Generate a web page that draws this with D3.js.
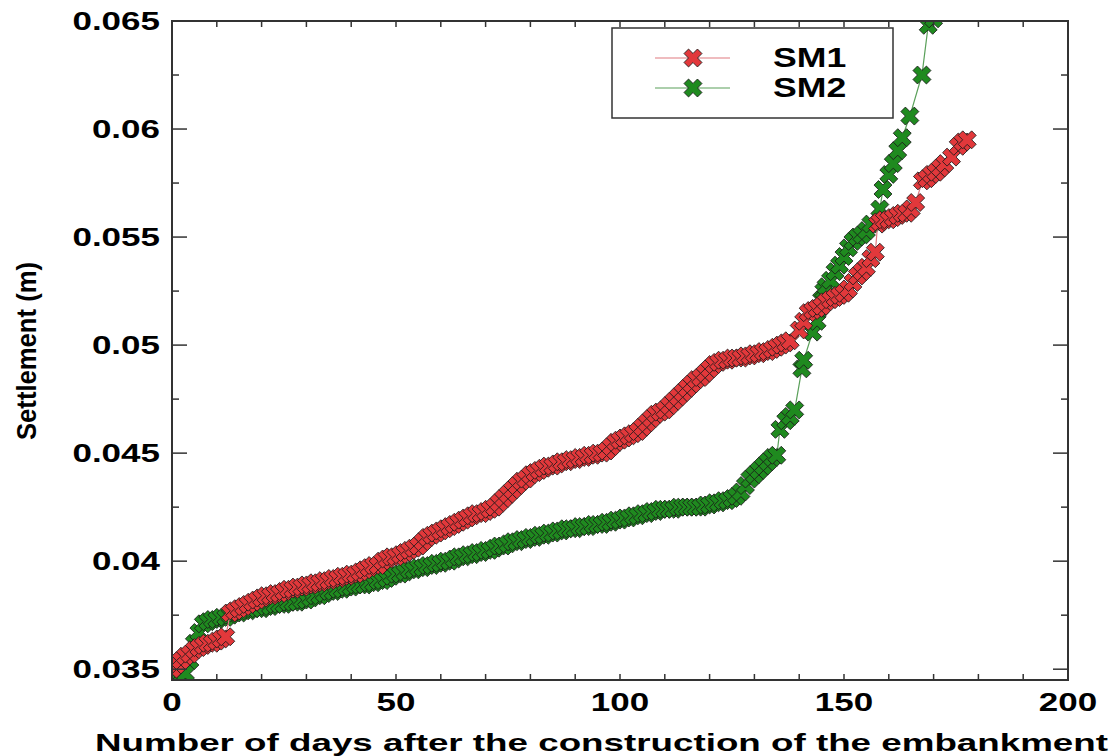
<!DOCTYPE html>
<html>
<head>
<meta charset="utf-8">
<script src="https://cdn.jsdelivr.net/npm/d3@7"></script>
<style>
  html, body { margin: 0; padding: 0; background: #fff; }
  svg { display: block; }
  text { font-family: "Liberation Sans", Arial, sans-serif; font-weight: bold; fill: #000; }
</style>
</head>
<body>
<svg id="chart" width="1117" height="756"></svg>
<script>
// ---------- DATA ----------
const seriesNames = ["SM1", "SM2"];

const sm1Days = [0,1,2,3,4,5,6,7,8,9,10,11,12,13,14,15,16,17,18,19,20,21,22,23,24,25,26,27,28,29,30,31,32,33,34,35,36,37,38,39,40,41,42,43,44,45,46,47,48,49,50,51,52,53,54,55,56,57,58,59,60,61,62,63,64,65,66,67,68,69,70,71,72,73,74,75,76,77,78,79,80,81,82,83,84,85,86,87,88,89,90,91,92,93,94,95,96,97,98,99,100,101,102,103,104,105,106,107,108,109,110,111,112,113,114,115,116,117,118,119,120,121,122,123,124,125,126,127,128,129,130,131,132,133,134,135,136,137,138,140,141,142,143,144,145,146,147,148,149,150,151,152,153,154,155,156,157,157.5,158,159,160,161,162,163,164,165,166,167.5,168.5,169.5,170.5,171.5,172.5,174,175.5,176.5,177.5];
const sm1Settlement = [0.0350,0.0352,0.0354,0.0356,0.0357,0.0359,0.0360,0.0361,0.0362,0.0362,0.0363,0.0364,0.0365,0.0376,0.0377,0.0378,0.0379,0.0380,0.0381,0.0382,0.0383,0.0384,0.0384,0.0385,0.0385,0.0386,0.0387,0.0387,0.0388,0.0388,0.0389,0.0389,0.0390,0.0390,0.0391,0.0391,0.0392,0.0392,0.0393,0.0393,0.0394,0.0394,0.0395,0.0396,0.0397,0.0398,0.0398,0.0400,0.0401,0.0402,0.0402,0.0403,0.0404,0.0405,0.0406,0.0407,0.0409,0.0411,0.0412,0.0413,0.0414,0.0415,0.0416,0.0417,0.0418,0.0419,0.0420,0.0421,0.0422,0.0422,0.0423,0.0424,0.0425,0.0427,0.0429,0.0431,0.0433,0.0435,0.0437,0.0438,0.0440,0.0441,0.0442,0.0443,0.0444,0.0444,0.0445,0.0446,0.0446,0.0447,0.0447,0.0448,0.0448,0.0449,0.0449,0.0450,0.0450,0.0451,0.0453,0.0455,0.0456,0.0457,0.0458,0.0459,0.0460,0.0462,0.0464,0.0466,0.0468,0.0469,0.0470,0.0472,0.0474,0.0476,0.0478,0.0480,0.0482,0.0484,0.0485,0.0487,0.0489,0.0491,0.0492,0.0493,0.0493,0.0494,0.0494,0.0494,0.0495,0.0495,0.0496,0.0496,0.0497,0.0497,0.0498,0.0499,0.0500,0.0501,0.0502,0.0507,0.0511,0.0515,0.0516,0.0517,0.0518,0.0520,0.0521,0.0522,0.0523,0.0524,0.0526,0.0529,0.0532,0.0534,0.0536,0.0540,0.0543,0.0556,0.0557,0.0558,0.0558,0.0559,0.0560,0.0561,0.0561,0.0563,0.0566,0.0576,0.0577,0.0579,0.0580,0.0582,0.0584,0.0587,0.0592,0.0594,0.0595];

const sm2Days = [0,1,2,3,4,5,6,7,8,9,10,11,12,13,14,15,16,17,18,19,20,21,22,23,24,25,26,27,28,29,30,31,32,33,34,35,36,37,38,39,40,41,42,43,44,45,46,47,48,49,50,51,52,53,54,55,56,57,58,59,60,61,62,63,64,65,66,67,68,69,70,71,72,73,74,75,76,77,78,79,80,81,82,83,84,85,86,87,88,89,90,91,92,93,94,95,96,97,98,99,100,101,102,103,104,105,106,107,108,109,110,111,112,113,114,115,116,117,118,119,120,121,122,123,124,125,126,127,128,129,130,131,132,133,134,135,135.7,137,138,139,140.6,141,143,144,144.5,145,145.5,146,147,148,149,150,151,152,153,154,155,156,158,158.7,160,161,162,163,164.7,167.4,168.8,170];
const sm2Settlement = [0.0345,0.0346,0.0347,0.0348,0.0354,0.0362,0.0367,0.0371,0.0372,0.0373,0.0373,0.0374,0.0374,0.0375,0.0376,0.0376,0.0377,0.0377,0.0378,0.0378,0.0378,0.0379,0.0379,0.0380,0.0380,0.0380,0.0381,0.0381,0.0381,0.0382,0.0382,0.0383,0.0384,0.0384,0.0385,0.0386,0.0386,0.0387,0.0387,0.0388,0.0388,0.0389,0.0389,0.0389,0.0390,0.0390,0.0391,0.0391,0.0392,0.0393,0.0394,0.0394,0.0395,0.0396,0.0396,0.0397,0.0397,0.0398,0.0398,0.0399,0.0399,0.0400,0.0400,0.0401,0.0402,0.0402,0.0403,0.0403,0.0404,0.0404,0.0405,0.0405,0.0406,0.0407,0.0407,0.0408,0.0409,0.0409,0.0410,0.0410,0.0411,0.0411,0.0412,0.0412,0.0413,0.0413,0.0414,0.0414,0.0415,0.0415,0.0415,0.0416,0.0416,0.0416,0.0417,0.0417,0.0417,0.0418,0.0418,0.0419,0.0419,0.0420,0.0420,0.0421,0.0421,0.0422,0.0422,0.0423,0.0423,0.0424,0.0424,0.0424,0.0424,0.0425,0.0425,0.0425,0.0425,0.0425,0.0425,0.0426,0.0426,0.0427,0.0427,0.0428,0.0428,0.0429,0.0430,0.0432,0.0435,0.0438,0.0440,0.0442,0.0444,0.0446,0.0448,0.0449,0.0461,0.0465,0.0467,0.0470,0.0489,0.0493,0.0506,0.0511,0.0517,0.0521,0.0525,0.0527,0.0530,0.0534,0.0537,0.0541,0.0545,0.0548,0.0550,0.0551,0.0553,0.0556,0.0563,0.0572,0.0579,0.0584,0.0590,0.0596,0.0606,0.0625,0.0648,0.0651];

const xTickValues = [0, 50, 100, 150, 200];
const xTickLabels = ["0", "50", "100", "150", "200"];
const yTickValues = [0.035, 0.04, 0.045, 0.05, 0.055, 0.06, 0.065];
const yTickLabels = ["0.035", "0.04", "0.045", "0.05", "0.055", "0.06", "0.065"];
const xTitle = "Number of days after the construction of the embankment";
const yTitle = "Settlement (m)";

// ---------- LAYOUT ----------
const svg = d3.select("#chart");
const pLeft = 172, pRight = 1068, pTop = 21, pBottom = 680;
const x = d3.scaleLinear().domain([0, 200]).range([pLeft, pRight]);
const y = d3.scaleLinear().domain([0.0345, 0.065]).range([pBottom, pTop]);

const colors = {
  SM1: { fill: "#e2383b", line: "#e07a80" },
  SM2: { fill: "#1f8a1f", line: "#5aa05a" }
};

svg.append("defs").append("clipPath").attr("id", "plotclip")
  .append("rect").attr("x", pLeft).attr("y", pTop).attr("width", pRight - pLeft).attr("height", pBottom - pTop);

// X marker path (thick cross rotated 45deg)
const armL = 9.5, armH = 3.2;
const plusPts = [[armH,-armL],[armH,-armH],[armL,-armH],[armL,armH],[armH,armH],[armH,armL],[-armH,armL],[-armH,armH],[-armL,armH],[-armL,-armH],[-armH,-armH],[-armH,-armL]];
const xMarker = "M" + plusPts.map(p => p.join(",")).join("L") + "Z";

function drawSeries(days, vals, c) {
  const pts = days.map((d, i) => [d, vals[i]]);
  const g = svg.append("g").attr("clip-path", "url(#plotclip)");
  g.append("path")
    .attr("d", d3.line().x(p => x(p[0])).y(p => y(p[1]))(pts))
    .attr("fill", "none").attr("stroke", c.line).attr("stroke-width", 1.2);
  g.selectAll("path.m").data(pts).enter().append("path")
    .attr("class", "m")
    .attr("d", xMarker)
    .attr("transform", p => `translate(${x(p[0])},${y(p[1])}) rotate(45)`)
    .attr("fill", c.fill).attr("stroke", "#1a1a1a").attr("stroke-width", 0.8);
}

drawSeries(sm2Days, sm2Settlement, colors.SM2);
drawSeries(sm1Days, sm1Settlement, colors.SM1);

// ---------- AXES (ticks inward) ----------
const axisColor = "#333";
const xMinor = d3.range(0, 201, 10);
const yMinor = [0.0375, 0.0425, 0.0475, 0.0525, 0.0575, 0.0625];

const axG = svg.append("g").attr("stroke", axisColor).attr("stroke-width", 1.5);
xMinor.forEach(v => {
  axG.append("line").attr("x1", x(v)).attr("x2", x(v)).attr("y1", pBottom).attr("y2", pBottom - 6);
  axG.append("line").attr("x1", x(v)).attr("x2", x(v)).attr("y1", pTop).attr("y2", pTop + 6);
});
yTickValues.forEach(v => {
  axG.append("line").attr("x1", pLeft).attr("x2", pLeft + 15).attr("y1", y(v)).attr("y2", y(v));
  axG.append("line").attr("x1", pRight).attr("x2", pRight - 15).attr("y1", y(v)).attr("y2", y(v));
});
yMinor.forEach(v => {
  axG.append("line").attr("x1", pLeft).attr("x2", pLeft + 7).attr("y1", y(v)).attr("y2", y(v));
  axG.append("line").attr("x1", pRight).attr("x2", pRight - 7).attr("y1", y(v)).attr("y2", y(v));
});
svg.append("rect").attr("x", pLeft).attr("y", pTop).attr("width", pRight - pLeft).attr("height", pBottom - pTop)
  .attr("fill", "none").attr("stroke", axisColor).attr("stroke-width", 2);

// tick labels
const stretch = 1.4;
xTickValues.forEach((v, i) => {
  svg.append("text")
    .attr("transform", `translate(${x(v)},711) scale(${stretch},1)`)
    .attr("text-anchor", "middle").attr("font-size", 25)
    .text(xTickLabels[i]);
});
yTickValues.forEach((v, i) => {
  svg.append("text")
    .attr("transform", `translate(160,${y(v) + 9}) scale(${stretch},1)`)
    .attr("text-anchor", "end").attr("font-size", 25)
    .text(yTickLabels[i]);
});

// axis titles
svg.append("text")
  .attr("x", 95).attr("y", 751)
  .attr("font-size", 24)
  .attr("textLength", 1013).attr("lengthAdjust", "spacingAndGlyphs")
  .text(xTitle);

svg.append("text")
  .attr("transform", "translate(36,440) rotate(-90)")
  .attr("font-size", 27)
  .attr("textLength", 178).attr("lengthAdjust", "spacingAndGlyphs")
  .style("font-family", "'Liberation Sans Narrow', 'Liberation Sans', Arial, sans-serif")
  .text(yTitle);

// ---------- LEGEND ----------
const lg = svg.append("g");
lg.append("rect").attr("x", 612).attr("y", 28).attr("width", 281).attr("height", 90)
  .attr("fill", "#fff").attr("stroke", axisColor).attr("stroke-width", 1.5);
seriesNames.forEach((name, i) => {
  const cy = 58 + i * 30;
  const c = colors[name];
  lg.append("line").attr("x1", 655).attr("x2", 730).attr("y1", cy).attr("y2", cy)
    .attr("stroke", c.line).attr("stroke-width", 1.2);
  lg.append("path").attr("d", xMarker).attr("transform", `translate(693,${cy}) rotate(45)`)
    .attr("fill", c.fill).attr("stroke", "#1a1a1a").attr("stroke-width", 0.8);
  lg.append("text").attr("transform", `translate(773,${cy + 9}) scale(1.32,1)`)
    .attr("font-size", 27).text(name);
});
</script>
</body>
</html>
